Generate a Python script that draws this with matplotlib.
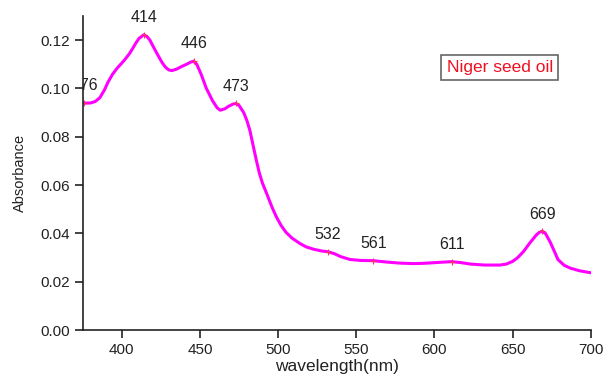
import matplotlib
matplotlib.use("Agg")
import matplotlib.pyplot as plt
from matplotlib.transforms import Bbox, TransformedBbox

plt.rcParams['font.family'] = ['Liberation Sans', 'DejaVu Sans']

# UV-Vis absorption spectrum of Niger seed oil
wavelength = [375, 380, 383, 386, 389, 391, 394, 397, 400, 402, 405, 407, 409,
              411, 414, 416, 418, 420, 423, 426, 428, 430, 432, 435, 438, 442,
              444, 446, 448, 451, 454, 458, 461, 463, 466, 468, 471, 473, 475,
              478, 480, 482, 484, 486, 488, 490, 493, 496, 499, 502, 505, 509,
              514, 518, 523, 528, 532, 536, 540, 546, 553, 561, 570, 578, 586,
              593, 603, 611, 617, 623, 632, 642, 646, 650, 653, 657, 661, 665,
              667, 669, 671, 674, 677, 679, 683, 687, 693, 700]
absorbance = [0.0939, 0.0940, 0.0946, 0.0962, 0.0995, 0.1024, 0.1058, 0.1084,
              0.1105, 0.1120, 0.1145, 0.1166, 0.1188, 0.1207, 0.1222, 0.1216,
              0.1200, 0.1175, 0.1139, 0.1105, 0.1088, 0.1077, 0.1074, 0.1080,
              0.1090, 0.1102, 0.1109, 0.1113, 0.1100, 0.1055, 0.1002, 0.0950,
              0.0920, 0.0910, 0.0916, 0.0925, 0.0935, 0.0938, 0.0930, 0.0900,
              0.0868, 0.0825, 0.0765, 0.0705, 0.0650, 0.0608, 0.0560, 0.0510,
              0.0467, 0.0432, 0.0405, 0.0380, 0.0358, 0.0344, 0.0334, 0.0327,
              0.0324, 0.0316, 0.0304, 0.0292, 0.0288, 0.0287, 0.0281, 0.0277,
              0.0275, 0.0276, 0.0280, 0.0283, 0.0279, 0.0273, 0.0269, 0.0269,
              0.0273, 0.0284, 0.0298, 0.0325, 0.0360, 0.0392, 0.0404, 0.0409,
              0.0400, 0.0365, 0.0322, 0.0292, 0.0268, 0.0256, 0.0245, 0.0237]

# labelled peak positions
peak_nm = [376, 414, 446, 473, 532, 561, 611, 669]
peak_abs = [0.0939, 0.1222, 0.1113, 0.0938, 0.0324, 0.0287, 0.0283, 0.0409]

x_ticks = [400, 450, 500, 550, 600, 650, 700]
y_ticks = [0.00, 0.02, 0.04, 0.06, 0.08, 0.10, 0.12]

fig = plt.figure(figsize=(6.05, 3.76), dpi=100)
ax = fig.add_axes([0.1367, 0.1223, 0.8397, 0.8351])

ax.plot(wavelength, absorbance, color='#ff00ff', lw=2.2,
        solid_joinstyle='round', solid_capstyle='round')
ax.plot(peak_nm, peak_abs, ls='none', marker='+', ms=5, mew=0.8,
        color='#ff3060')

# peak labels are cut off only at the left edge of the plot area
clip = TransformedBbox(Bbox([[0, -1], [2, 2]]), ax.transAxes)
for nm, a in zip(peak_nm, peak_abs):
    t = ax.annotate(str(nm), (nm, a), xytext=(0, 7), textcoords='offset points',
                    ha='center', va='bottom', fontsize=11.5, color='#222222',
                    annotation_clip=False)
    t.set_clip_box(clip)
    t.set_clip_on(True)

ax.set_xlim(375, 700)
ax.set_ylim(0, 0.13)
ax.set_xticks(x_ticks)
ax.set_yticks(y_ticks)
ax.set_yticklabels([f"{v:.2f}" for v in y_ticks])

for side in ('top', 'right'):
    ax.spines[side].set_visible(False)
for side in ('left', 'bottom'):
    ax.spines[side].set_linewidth(1.2)
    ax.spines[side].set_color('#222222')

ax.tick_params(axis='both', direction='out', length=6, width=1.2,
               colors='#222222', labelsize=11, pad=3)

ax.set_xlabel('wavelength(nm)', fontsize=12.5, color='#222222', labelpad=2)
ax.set_ylabel('Absorbance', fontsize=10.5, color='#222222', labelpad=10)

ax.text(0.821, 0.836, 'Niger seed oil', transform=ax.transAxes,
        fontsize=12.5, color='#ee1122', ha='center', va='center',
        bbox=dict(boxstyle='square,pad=0.3', fc='white', ec='#666666', lw=1.2))

fig.savefig('out.png', dpi=100)
